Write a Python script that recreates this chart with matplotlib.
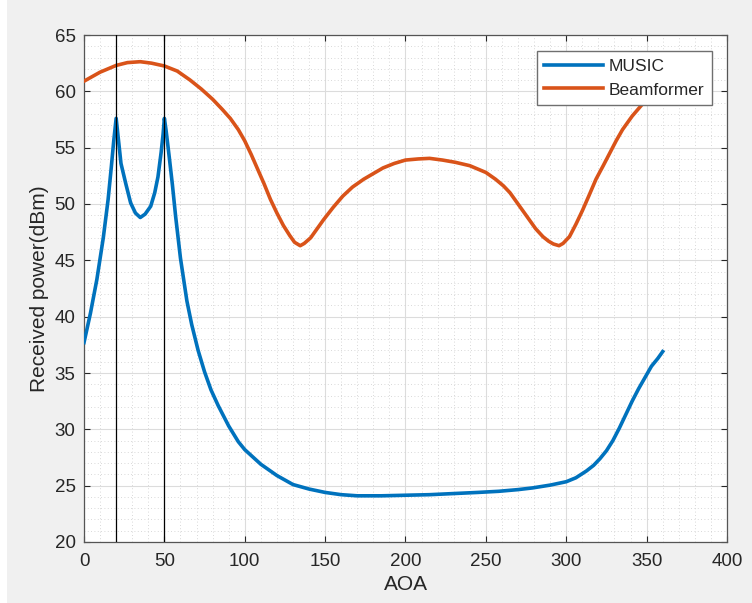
import matplotlib.pyplot as plt
from matplotlib.ticker import MultipleLocator
from matplotlib.patches import Rectangle

plt.rcParams['font.family'] = ['Liberation Sans', 'DejaVu Sans']

# values
music_aoa = [0, 4, 8, 12, 15, 17, 18.5, 20, 21.5, 23, 26, 29, 32, 35, 38, 41.5, 44, 46,
             48, 49.2, 50, 51, 53, 55, 57, 60, 64, 67, 71, 75, 79, 83.5, 90, 96, 100,
             110, 120, 130, 140, 150, 160, 170, 185, 200, 215, 230, 245, 258, 270, 279,
             290, 300, 306, 312.5, 317, 321, 325, 329, 333, 337, 341, 345, 349, 353,
             357, 360]
music_pow = [37.7, 40.3, 43.3, 47.0, 50.4, 53.3, 55.6, 57.6, 55.6, 53.6, 51.8, 50.1, 49.2,
             48.8, 49.1, 49.8, 51.0, 52.4, 54.6, 56.2, 57.6, 56.6, 54.2, 51.7, 48.9, 45.2,
             41.4, 39.3, 37.0, 35.1, 33.5, 32.1, 30.3, 28.9, 28.2, 26.9, 25.9, 25.1, 24.7,
             24.4, 24.2, 24.1, 24.1, 24.15, 24.2, 24.3, 24.4, 24.5, 24.65, 24.8, 25.05,
             25.35, 25.7, 26.3, 26.8, 27.4, 28.1, 29.0, 30.1, 31.3, 32.5, 33.6, 34.6,
             35.6, 36.3, 36.9]

beam_aoa = [0, 10, 20, 27, 35, 42, 50, 58, 66, 73, 80, 86, 91, 96, 100, 104, 108, 112,
            116, 120, 124, 128, 131, 134.5, 137, 141, 145, 149, 155, 161, 167, 174, 180,
            186, 193, 200, 208, 215, 223, 231, 240, 250, 256, 261, 265, 269, 273, 277,
            281, 285.5, 289, 292, 295.5, 298, 302, 306, 310, 314, 318.5, 323, 327, 331,
            335, 341, 347, 353, 360]
beam_pow = [60.9, 61.7, 62.3, 62.55, 62.63, 62.5, 62.25, 61.8, 61.0, 60.2, 59.3, 58.4,
            57.6, 56.6, 55.6, 54.4, 53.1, 51.8, 50.4, 49.2, 48.1, 47.2, 46.6, 46.3, 46.5,
            47.0, 47.8, 48.6, 49.7, 50.7, 51.5, 52.2, 52.7, 53.2, 53.6, 53.9, 54.0, 54.05,
            53.9, 53.7, 53.4, 52.8, 52.2, 51.6, 51.0, 50.2, 49.4, 48.6, 47.8, 47.1, 46.7,
            46.45, 46.3, 46.5, 47.1, 48.2, 49.4, 50.7, 52.2, 53.4, 54.5, 55.6, 56.6, 57.8,
            58.8, 59.8, 60.8]

true_aoa = [20, 50]

fig = plt.figure(figsize=(7.52, 6.03), dpi=100, facecolor='#f0f0f0')
fig.patches.append(Rectangle((0, 0), 7 / 752, 1, transform=fig.transFigure,
                             facecolor='white', edgecolor='none', zorder=-1))
ax = fig.add_axes([84 / 752, 61 / 603, 643 / 752, 507 / 603])

ax.plot(music_aoa, music_pow, color='#0072BD', lw=2.6, label='MUSIC', zorder=3,
        solid_joinstyle='round')
ax.plot(beam_aoa, beam_pow, color='#D95319', lw=2.6, label='Beamformer', zorder=3,
        solid_joinstyle='round')
for a in true_aoa:
    ax.axvline(a, color='black', lw=0.9, zorder=4)

ax.set_xlim(0, 400)
ax.set_ylim(20, 65)
ax.xaxis.set_major_locator(MultipleLocator(50))
ax.yaxis.set_major_locator(MultipleLocator(5))
ax.xaxis.set_minor_locator(MultipleLocator(10))
ax.yaxis.set_minor_locator(MultipleLocator(1))

ax.set_axisbelow(True)
ax.grid(True, which='major', color='#dcdcdc', lw=0.8, ls='-')
ax.grid(True, which='minor', color='#cccccc', lw=0.6, ls=(0, (1, 3)))

ax.tick_params(which='major', direction='in', length=4, width=0.8, colors='#262626',
               top=True, right=True, labelsize=13.5)
ax.tick_params(axis='x', which='major', pad=8)
ax.tick_params(axis='y', which='major', pad=6)
ax.tick_params(which='minor', length=0)
for s in ax.spines.values():
    s.set_color('#555555')
    s.set_linewidth(0.9)

ax.set_xlabel('AOA', fontsize=15, color='#262626', labelpad=3.5)
ax.set_ylabel('Received power(dBm)', fontsize=15, color='#262626', labelpad=4)

leg = ax.legend(loc='upper right', bbox_to_anchor=(0.9767, 0.969), borderaxespad=0,
                fontsize=12.5, handlelength=3.4, labelspacing=0.5, handletextpad=0.3,
                fancybox=False, framealpha=1, edgecolor='#6f6f6f', borderpad=0.45)
leg.get_frame().set_linewidth(1)
for t in leg.get_texts():
    t.set_color('#262626')

plt.savefig('out.png', dpi=100, facecolor=fig.get_facecolor())
